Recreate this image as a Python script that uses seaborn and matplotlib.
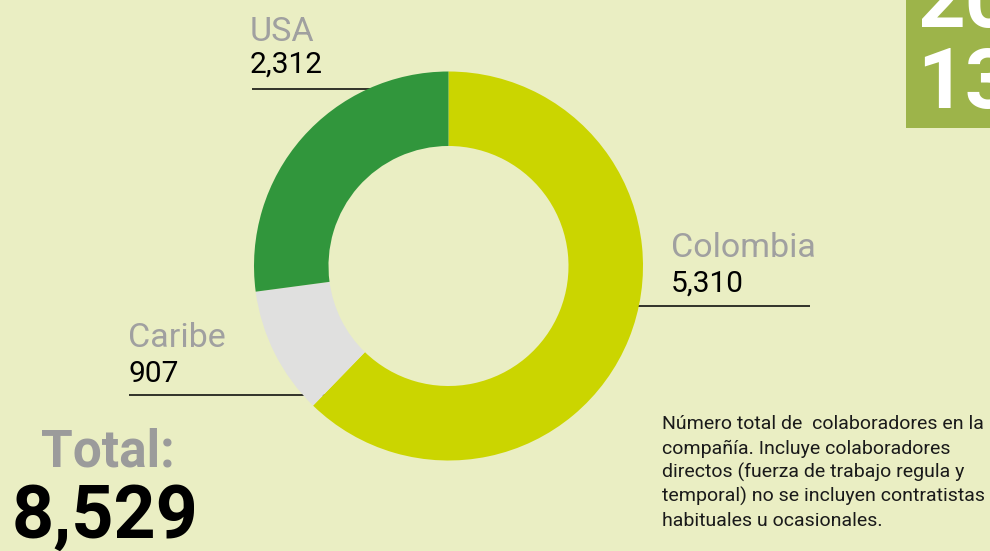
import matplotlib.pyplot as plt
from matplotlib.patches import Rectangle
import seaborn as sns

# Data
regions = ['Colombia', 'Caribe', 'USA']
employees = [5310, 907, 2312]
total_label = '8,529'
year_lines = ['20', '13']
note_lines = ['Número total de  colaboradores en la',
              'compañía. Incluye colaboradores',
              'directos (fuerza de trabajo regula y',
              'temporal) no se incluyen contratistas',
              'habituales u ocasionales.']

bg_color = '#EAEEC3'
slice_colors = ['#CBD500', '#E0E0DF', '#31963C']
gray = '#A0A0A0'

sns.set_theme(style='white', rc={'figure.facecolor': bg_color, 'axes.facecolor': bg_color})
plt.rcParams['font.family'] = ['Roboto', 'DejaVu Sans']

W, H = 990, 551
fig = plt.figure(figsize=(W / 100, H / 100), dpi=100)

# background axes in pixel coordinates, for labels and leader lines
bg = fig.add_axes([0, 0, 1, 1], zorder=0)
bg.set_xlim(0, W)
bg.set_ylim(H, 0)
bg.axis('off')

# donut axes
cx, cy, r = 448.5, 266, 194.5
ax = fig.add_axes([(cx - r) / W, (H - cy - r) / H, 2 * r / W, 2 * r / H], zorder=1)
ax.pie(employees, colors=slice_colors, startangle=90, counterclock=False, radius=1,
       wedgeprops=dict(width=0.383, edgecolor='none', linewidth=0))
ax.set_xlim(-1, 1)
ax.set_ylim(-1, 1)
ax.set_aspect('equal')
ax.axis('off')
ax.patch.set_visible(False)

# labels: name, value, underline
label_pos = {
    'USA': (250, 41, 73, 88.7, 252, 400),
    'Colombia': (671, 256.7, 291.7, 306, 600, 810),
    'Caribe': (128, 346.7, 381.7, 394.7, 129, 330),
}
for name, val in zip(regions, employees):
    x, yname, yval, yline, x0, x1 = label_pos[name]
    bg.text(x, yname, name, fontsize=24.5, color=gray, va='baseline', ha='left')
    bg.text(x, yval, f'{val:,}', fontsize=21.5, color='black', va='baseline', ha='left')
    bg.plot([x0, x1], [yline, yline], color='black', lw=1.1, solid_capstyle='butt')

# total
bg.text(41, 466.7, 'Total:', fontsize=37, fontweight='bold', color='#9B9B9B', va='baseline')
bg.text(12, 538, total_label, fontsize=53, fontweight='bold', color='black', va='baseline')

# note, one line at a time
for i, line in enumerate(note_lines):
    bg.text(661.5, 429.3 + 24.3 * i, line, fontsize=14, color='#1A1A1A',
            va='baseline', ha='left')

# year box
bg.add_patch(Rectangle((906, -5), 100, 132.7, facecolor='#9DB44A', edgecolor='none'))
bg.text(917, 27, year_lines[0], fontsize=60, fontweight='bold', color='white', va='baseline')
bg.text(917, 108, year_lines[1], fontsize=60, fontweight='bold', color='white', va='baseline')

fig.savefig('out.png', dpi=100, facecolor=bg_color)
